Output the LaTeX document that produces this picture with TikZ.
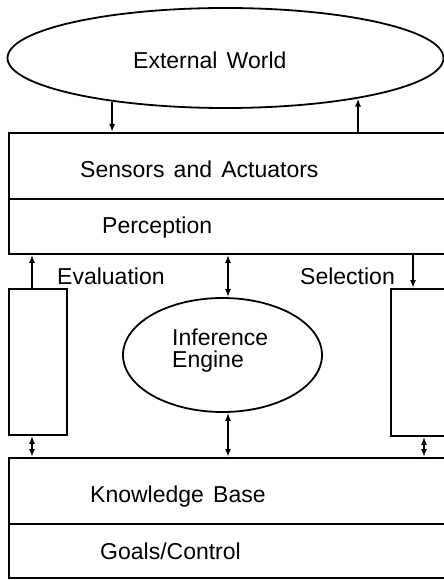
\documentclass[tikz,border=0pt]{standalone}
\usepackage{fontspec}
\setmainfont{Liberation Sans}
\usetikzlibrary{shapes.geometric,arrows.meta}
\newcommand\lblfont{\fontsize{23bp}{27bp}\selectfont\spaceskip=0.4em plus 0.1em\relax}
\tikzset{
  box/.style={draw,line width=1.8bp,rectangle,anchor=north west,inner sep=0pt,minimum width=462bp},
  oval/.style={draw,line width=1.8bp,ellipse,inner sep=0pt},
  lbl/.style={anchor=base west,inner sep=0pt,font=\lblfont},
  arr/.style={line width=1.7bp,-{Latex[length=8bp,width=6bp]}},
  darr/.style={line width=1.7bp,{Latex[length=8bp,width=6bp]}-{Latex[length=8bp,width=6bp]}}
}
\begin{document}
\begin{tikzpicture}[x=1bp,y=-1bp]
\useasboundingbox (0,0) rectangle (444,580);
\clip (0,0) rectangle (444,580);
% outer ellipse
\node[oval,minimum width=436bp,minimum height=100bp] (ew) at (225.5,58) {};
\node[lbl] (tew) at (133,69) {External World};
% sensors / perception
\node[box,minimum height=66bp] (sa) at (8,132) {};
\node[box,minimum height=55bp] (pc) at (8,198) {};
\node[lbl] (tsa) at (80,177) {Sensors and Actuators};
\node[lbl] (tpc) at (102,233) {Perception};
% side boxes
\node[draw,line width=1.8bp,rectangle,anchor=north west,inner sep=0pt,minimum width=58bp,minimum height=146bp] (lb) at (8,288) {};
\node[draw,line width=1.8bp,rectangle,anchor=north west,inner sep=0pt,minimum width=80bp,minimum height=147bp] (rb) at (390,288) {};
\node[lbl] (tev) at (57,284) {Evaluation};
\node[lbl] (tse) at (300,284) {Selection};
% inference engine
\node[oval,minimum width=199bp,minimum height=114bp] (ie) at (222.5,355) {};
\node[lbl] (tie1) at (172,345) {Inference};
\node[lbl] (tie2) at (172,367) {Engine};
% knowledge base / goals
\node[box,minimum height=66bp] (kb) at (8,457) {};
\node[box,minimum height=54bp] (gc) at (8,523) {};
\node[lbl] (tkb) at (90,502) {Knowledge Base};
\node[lbl] (tgc) at (100,559) {Goals/Control};
% x positions
\coordinate (xL) at (32,0);
\coordinate (xM) at (228,0);
\coordinate (xR) at (413,0);
\coordinate (xR2) at (424,0);
% connectors
\draw[arr] (ew.201) -- (ew.201 |- sa.north);
\draw[arr] (ew.343 |- sa.north) -- (ew.343);
\draw[arr] (lb.north -| xL) -- (pc.south -| xL);
\draw[darr] (pc.south -| xM) -- (ie.north -| xM);
\draw[arr] (pc.south -| xR) -- (rb.north -| xR);
\draw[darr] (lb.south -| xL) -- (kb.north -| xL);
\draw[darr] (ie.south -| xM) -- (kb.north -| xM);
\draw[darr] (rb.south -| xR2) -- (kb.north -| xR2);
\end{tikzpicture}
\end{document}
